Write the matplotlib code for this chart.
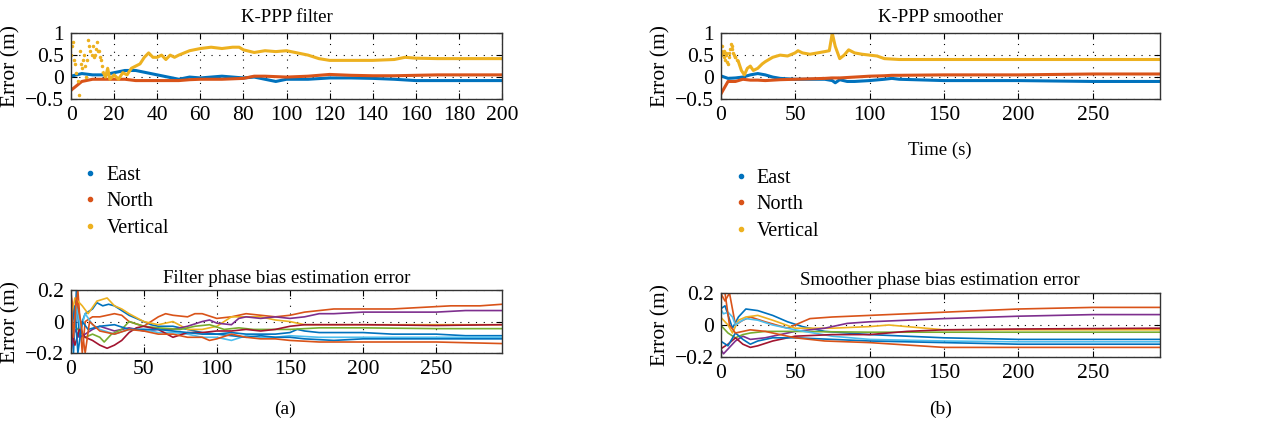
import numpy as np
import matplotlib.pyplot as plt

plt.rcParams['font.family'] = ['Liberation Serif', 'DejaVu Serif']
plt.rcParams['mathtext.fontset'] = 'stix'

C = ["#0072BD", "#D95319", "#EDB120", "#7E2F8E", "#77AC30", "#4DBEEE", "#A2142F"]

# ---------------- K-PPP filter (position error) ----------------
f_t = [0, 5, 10, 15, 20, 25, 30, 35, 40, 45, 50, 55, 60, 65, 70, 75, 80, 85, 90, 95,
       100, 110, 120, 130, 140, 150, 160, 170, 180, 190, 200]
f_east = [0.02, 0.08, 0.05, 0.05, 0.1, 0.15, 0.15, 0.1, 0.05, 0.0, -0.05, 0.0, -0.02, 0.0,
          0.02, 0.0, -0.02, 0.0, -0.05, -0.1, -0.05, -0.05, -0.02, -0.02, -0.03, -0.05,
          -0.08, -0.08, -0.08, -0.08, -0.08]
f_north = [-0.3, -0.1, -0.05, -0.05, -0.05, -0.05, -0.08, -0.08, -0.08, -0.08, -0.08, -0.06,
           -0.05, -0.05, -0.05, -0.04, -0.03, 0.02, 0.02, 0.01, 0.0, 0.02, 0.06, 0.04, 0.03,
           0.03, 0.04, 0.05, 0.05, 0.05, 0.05]
f_vert_t = [15, 16, 17, 18, 20, 22, 24, 26, 28, 30, 32, 34, 36, 38, 40, 42, 44, 46, 48, 50,
            55, 60, 65, 70, 75, 78, 80, 85, 90, 95, 100, 105, 110, 115, 120, 130, 140, 150,
            155, 160, 170, 180, 190, 200]
f_vert = [0.1, 0.0, 0.2, -0.05, 0.05, -0.05, 0.1, 0.05, 0.2, 0.25, 0.3, 0.45, 0.55, 0.45,
          0.45, 0.5, 0.4, 0.5, 0.45, 0.5, 0.6, 0.65, 0.68, 0.65, 0.68, 0.68, 0.62, 0.56, 0.6,
          0.58, 0.6, 0.55, 0.5, 0.42, 0.38, 0.38, 0.38, 0.4, 0.45, 0.43, 0.42, 0.42, 0.42, 0.42]
f_vert_sc_t = [0, 0.5, 1, 1.5, 2, 2.5, 3, 3.5, 4, 4.5, 5, 5.5, 6, 6.5, 7, 7.5, 8, 8.5, 9, 9.5,
               10, 10.5, 11, 11.5, 12, 12.5, 13, 13.5, 14, 14.5]
f_vert_sc = [0.5, 0.7, 0.8, 0.4, 0.3, 0.1, -0.1, -0.4, 0.6, 0.3, 0.2, 0.4, 0.5, 0.25, 0.0,
             0.4, 0.85, 0.7, 0.6, 0.5, 0.7, 0.45, 0.5, 0.65, 0.8, 0.6, 0.6, 0.45, 0.4, 0.25]

# ---------------- K-PPP smoother (position error) ----------------
s_t = [0, 5, 10, 15, 20, 25, 30, 35, 40, 50, 60, 70, 75, 77, 80, 85, 90, 100, 110, 115, 120,
       150, 200, 250, 295]
s_east = [0.03, -0.03, -0.02, 0.0, 0.05, 0.08, 0.05, 0.0, -0.03, -0.05, -0.05, -0.05, -0.08,
          -0.13, -0.06, -0.1, -0.1, -0.08, -0.05, -0.03, -0.05, -0.08, -0.08, -0.1, -0.1]
s_north = [-0.4, -0.1, -0.1, -0.05, -0.07, -0.07, -0.08, -0.07, -0.06, -0.05, -0.04, -0.03,
           -0.02, -0.02, -0.02, -0.01, 0.0, 0.02, 0.03, 0.04, 0.04, 0.05, 0.05, 0.07, 0.07]
s_vert_t = [12, 14, 16, 18, 20, 22, 25, 28, 30, 35, 40, 45, 50, 52, 55, 60, 65, 70, 73, 75,
            77, 80, 83, 86, 90, 95, 100, 105, 110, 120, 150, 200, 250, 295]
s_vert = [0.35, 0.15, 0.05, 0.2, 0.25, 0.15, 0.2, 0.3, 0.35, 0.45, 0.5, 0.48, 0.55, 0.6, 0.55,
          0.52, 0.55, 0.58, 0.6, 1.0, 0.7, 0.42, 0.5, 0.62, 0.55, 0.52, 0.5, 0.48, 0.42, 0.4,
          0.4, 0.4, 0.4, 0.4]
s_vert_sc_t = [0, 0.5, 1, 1.5, 2, 2.5, 3, 3.5, 4, 4.5, 5, 5.5, 6, 6.5, 7, 7.5, 8, 8.5, 9, 9.5,
               10, 11]
s_vert_sc = [0.5, 0.6, 0.7, 0.55, 0.6, 0.45, 0.4, 0.55, 0.5, 0.35, 0.3, 0.45, 0.55, 0.65,
             0.75, 0.7, 0.65, 0.55, 0.5, 0.45, 0.45, 0.4]

# ---------------- Filter phase bias estimation error ----------------
fb_lines = [
    ([0, 2, 4, 6, 8, 10, 15, 18, 22, 26, 30, 35, 40, 45, 50, 55, 60, 70, 80, 90, 100, 110, 120,
      130, 140, 150, 155, 160, 170, 180, 200, 220, 250, 270, 295],
     [0.2, -0.2, 0.2, -0.1, 0.0, 0.05, 0.08, 0.12, 0.1, 0.11, 0.1, 0.07, 0.04, 0.02, 0.0, -0.02,
      -0.03, -0.03, -0.05, -0.07, -0.08, -0.07, -0.08, -0.08, -0.08, -0.07, -0.05, -0.06, -0.07,
      -0.07, -0.07, -0.08, -0.08, -0.09, -0.09]),
    ([0, 3, 5, 8, 10, 15, 20, 30, 35, 40, 50, 60, 65, 70, 80, 85, 90, 100, 110, 120, 130, 140,
      150, 160, 170, 180, 190, 200, 220, 240, 260, 280, 295],
     [0.2, 0.0, 0.2, -0.2, 0.0, 0.03, 0.03, 0.05, 0.04, 0.0, -0.03, 0.03, 0.05, 0.04, 0.03,
      0.05, 0.05, 0.02, 0.03, 0.05, 0.04, 0.03, 0.04, 0.06, 0.07, 0.08, 0.08, 0.08, 0.08, 0.09,
      0.1, 0.1, 0.11]),
    ([0, 3, 8, 12, 18, 25, 30, 35, 40, 50, 60, 70, 80, 90, 100, 110, 120, 130, 140, 150, 160,
      170, 200, 250, 295],
     [0.0, 0.15, 0.1, 0.05, 0.13, 0.15, 0.1, 0.08, 0.05, 0.0, -0.02, 0.0, -0.05, -0.05, -0.03,
      0.03, 0.03, 0.03, 0.01, 0.0, -0.02, -0.02, -0.02, -0.02, -0.02]),
    ([0, 3, 6, 10, 15, 20, 30, 40, 50, 60, 70, 80, 90, 95, 100, 110, 115, 120, 130, 140, 150,
      160, 170, 180, 200, 220, 250, 270, 295],
     [-0.2, -0.05, -0.1, -0.08, -0.05, -0.03, -0.06, -0.04, -0.06, -0.05, -0.05, -0.03, 0.0,
      0.01, -0.01, -0.02, 0.02, 0.03, 0.02, 0.03, 0.02, 0.03, 0.05, 0.05, 0.06, 0.06, 0.06,
      0.07, 0.07]),
    ([0, 5, 10, 15, 20, 23, 28, 35, 40, 50, 60, 75, 85, 95, 105, 115, 125, 140, 150, 170, 200,
      250, 295],
     [0.0, -0.05, -0.1, -0.08, -0.1, -0.13, -0.08, -0.05, 0.0, -0.03, -0.04, -0.05, -0.03,
      -0.02, -0.05, -0.04, -0.05, -0.05, -0.05, -0.04, -0.04, -0.045, -0.045]),
    ([0, 2, 4, 7, 10, 15, 20, 30, 40, 50, 60, 70, 80, 90, 100, 110, 120, 130, 140, 150, 170,
      200, 250, 295],
     [0.15, -0.1, 0.1, -0.05, 0.05, -0.02, -0.05, -0.08, -0.05, -0.05, -0.07, -0.07, -0.08,
      -0.1, -0.1, -0.12, -0.09, -0.1, -0.1, -0.09, -0.1, -0.1, -0.1, -0.1]),
    ([0, 3, 6, 10, 15, 20, 25, 30, 35, 40, 45, 50, 60, 70, 80, 90, 100, 110, 120, 130, 140,
      150, 160, 170, 200, 250, 295],
     [-0.05, -0.15, -0.05, -0.1, -0.12, -0.15, -0.17, -0.15, -0.12, -0.07, -0.04, -0.03, -0.05,
      -0.1, -0.07, -0.07, -0.06, -0.06, -0.05, -0.06, -0.05, -0.03, -0.02, -0.02, -0.02,
      -0.025, -0.02]),
    ([0, 3, 5, 8, 12, 20, 30, 40, 50, 60, 70, 80, 90, 100, 110, 120, 130, 140, 150, 160, 180,
      200, 250, 295],
     [-0.1, 0.1, -0.2, 0.0, -0.05, -0.03, -0.02, -0.05, -0.05, -0.05, -0.06, -0.07, -0.08,
      -0.08, -0.09, -0.1, -0.09, -0.1, -0.1, -0.11, -0.12, -0.11, -0.11, -0.11]),
    ([0, 2, 4, 7, 10, 13, 20, 30, 40, 50, 60, 70, 80, 90, 95, 100, 110, 120, 130, 140, 150,
      170, 200, 250, 295],
     [0.2, -0.1, 0.15, 0.0, -0.2, 0.0, -0.06, -0.08, -0.05, -0.06, -0.08, -0.08, -0.1, -0.1,
      -0.12, -0.11, -0.08, -0.1, -0.11, -0.11, -0.12, -0.13, -0.13, -0.13, -0.14]),
]

# ---------------- Smoother phase bias estimation error ----------------
sb_lines = [
    ([0, 3, 8, 12, 17, 25, 35, 45, 55, 70, 100, 150, 200, 295],
     [0.1, 0.12, -0.02, 0.05, 0.1, 0.09, 0.06, 0.02, -0.01, -0.04, -0.06, -0.08, -0.09, -0.09]),
    ([0, 3, 6, 10, 15, 20, 30, 45, 50, 60, 75, 100, 150, 200, 250, 295],
     [0.2, 0.15, 0.2, 0.0, 0.03, 0.05, 0.02, -0.02, 0.0, 0.04, 0.05, 0.06, 0.08, 0.1, 0.11,
      0.11]),
    ([0, 5, 8, 12, 17, 25, 35, 50, 75, 100, 113, 125, 150, 200, 295],
     [0.05, 0.0, -0.05, 0.03, 0.05, 0.06, 0.03, -0.02, -0.02, -0.01, 0.0, -0.01, -0.03, -0.03,
      -0.03]),
    ([0, 2, 5, 10, 15, 20, 30, 40, 50, 70, 85, 100, 150, 200, 250, 295],
     [-0.15, -0.18, -0.15, -0.1, -0.07, -0.09, -0.08, -0.06, -0.04, -0.02, 0.01, 0.02, 0.04,
      0.055, 0.065, 0.065]),
    ([0, 5, 10, 15, 20, 30, 50, 100, 200, 295],
     [0.0, -0.05, -0.08, -0.06, -0.05, -0.04, -0.04, -0.045, -0.045, -0.045]),
    ([0, 2, 5, 8, 10, 13, 17, 25, 35, 50, 75, 100, 150, 200, 295],
     [0.1, 0.07, 0.08, 0.05, 0.0, 0.02, 0.04, 0.03, 0.0, -0.03, -0.07, -0.09, -0.1, -0.105,
      -0.105]),
    ([0, 5, 10, 15, 20, 25, 35, 50, 75, 100, 125, 150, 200, 295],
     [-0.15, -0.12, -0.08, -0.12, -0.14, -0.13, -0.1, -0.07, -0.06, -0.06, -0.04, -0.03,
      -0.025, -0.02]),
    ([0, 5, 10, 15, 20, 25, 35, 50, 75, 100, 150, 200, 295],
     [-0.1, -0.13, -0.05, -0.09, -0.12, -0.1, -0.08, -0.08, -0.09, -0.1, -0.11, -0.12, -0.12]),
    ([0, 3, 6, 10, 20, 30, 40, 50, 70, 100, 150, 295],
     [0.2, 0.2, 0.0, -0.05, -0.03, -0.04, -0.06, -0.08, -0.1, -0.11, -0.14, -0.14]),
]


def style(ax, xlim, xticks, ylim, yticks, yticklabels):
    ax.set_xlim(*xlim)
    ax.set_ylim(*ylim)
    ax.set_xticks(xticks)
    ax.set_yticks(yticks)
    ax.set_yticklabels(yticklabels)
    ax.tick_params(direction="in", top=True, right=True, length=4, labelsize=15.5, pad=5)
    ax.grid(True, color="black", linestyle=(0, (1, 6)), linewidth=0.8)
    for s in ax.spines.values():
        s.set_linewidth(1.0)
        s.set_color("#333333")
    ax.set_ylabel("Error (m)", fontsize=15.5, labelpad=3)


fig = plt.figure(figsize=(12.69, 4.25), dpi=100)

# top left
ax1 = fig.add_axes([0.056, 0.767, 0.3396, 0.155])
ax1.plot(f_t, f_east, "-", color=C[0], lw=2.2)
ax1.plot(f_t, f_north, "-", color=C[1], lw=2.2)
ax1.plot(f_vert_t, f_vert, "-", color=C[2], lw=2.2)
ax1.plot(f_vert_sc_t, f_vert_sc, ".", color=C[2], ms=3)
style(ax1, (0, 200), np.arange(0, 201, 20), (-0.5, 1), [-0.5, 0, 0.5, 1],
      ["\u22120.5", "0", "0.5", "1"])
ax1.set_title("K-PPP filter", fontsize=13.5, pad=8)

# top right
ax2 = fig.add_axes([0.5678, 0.767, 0.3463, 0.155])
ax2.plot(s_t, s_east, "-", color=C[0], lw=2.2)
ax2.plot(s_t, s_north, "-", color=C[1], lw=2.2)
ax2.plot(s_vert_t, s_vert, "-", color=C[2], lw=2.2)
ax2.plot(s_vert_sc_t, s_vert_sc, ".", color=C[2], ms=3)
style(ax2, (0, 295), np.arange(0, 251, 50), (-0.5, 1), [-0.5, 0, 0.5, 1],
      ["\u22120.5", "0", "0.5", "1"])
ax2.set_title("K-PPP smoother", fontsize=13.5, pad=8)
ax2.set_xlabel("Time (s)", fontsize=13.5, labelpad=12)

# legends
labels = ["East", "North", "Vertical"]
for lx, ly in [(0.049, 0.652), (0.5615, 0.645)]:
    handles = [plt.Line2D([], [], marker=".", ls="none", color=C[i], ms=6) for i in range(3)]
    fig.legend(handles, labels, loc="upper left", bbox_to_anchor=(lx, ly), frameon=False,
               fontsize=14.5, handletextpad=0.3, labelspacing=0.36, handlelength=1.0)

# bottom left
ax3 = fig.add_axes([0.0556, 0.1694, 0.34, 0.148])
for i, (t, v) in enumerate(fb_lines):
    ax3.plot(t, v, color=C[i % 7], lw=1.2)
style(ax3, (0, 295), np.arange(0, 251, 50), (-0.2, 0.2), [-0.2, 0, 0.2],
      ["\u22120.2", "0", "0.2"])
ax3.set_title("Filter phase bias estimation error", fontsize=13.5, pad=5)

# bottom right
ax4 = fig.add_axes([0.5678, 0.16, 0.3463, 0.1506])
for i, (t, v) in enumerate(sb_lines):
    ax4.plot(t, v, color=C[i % 7], lw=1.2)
style(ax4, (0, 295), np.arange(0, 251, 50), (-0.2, 0.2), [-0.2, 0, 0.2],
      ["\u22120.2", "0", "0.2"])
ax4.set_title("Smoother phase bias estimation error", fontsize=13.5, pad=6)

fig.text(0.2246, 0.025, "(a)", ha="center", fontsize=14)
fig.text(0.741, 0.025, "(b)", ha="center", fontsize=14)

fig.savefig("out.png", dpi=100)
